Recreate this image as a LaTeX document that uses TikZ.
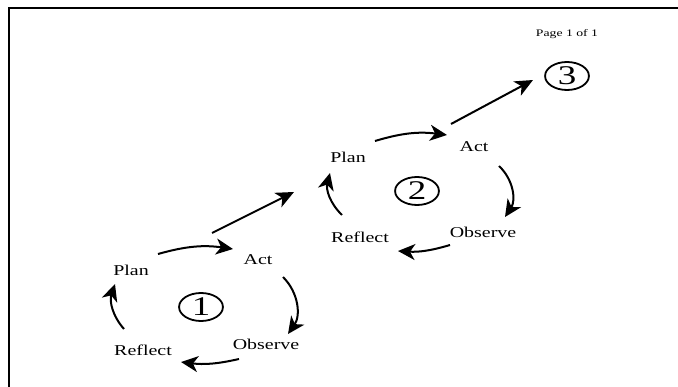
\documentclass[tikz,border=0pt]{standalone}
\usepackage{fontspec}
\setmainfont{Liberation Serif}
\usetikzlibrary{arrows.meta,shapes.geometric}

\begin{document}
\begin{tikzpicture}[x=1pt, y=-1pt,
  lbl/.style={font=\fontsize{15}{17}\selectfont, xscale=1.33, transform shape, inner sep=1pt},
  num/.style={ellipse, draw, line width=1.8pt, minimum width=32pt, minimum height=28pt, inner sep=0pt, font=\fontsize{27}{27}\selectfont, xscale=1.37, transform shape},
  cyc/.style={-{Stealth[length=17pt, width=16pt, inset=5pt]}, line width=2pt},
  adv/.style={-{Stealth[length=18pt, width=16pt, inset=5pt]}, line width=2pt}]
  \useasboundingbox (0,0) rectangle (678,387);
  \draw[line width=2pt] (9,387) -- (9,8) -- (678,8);

  \node[font=\fontsize{10}{11}\selectfont, xscale=1.37, transform shape] (page) at (567,34) {Page 1 of 1};

  % first cycle
  \node[lbl] (plan1) at (131,270) {Plan};
  \node[lbl] (act1) at (258,260) {Act};
  \node[lbl] (obs1) at (266,344) {Observe};
  \node[lbl] (ref1) at (143,350) {Reflect};
  \node[num] (num1) at (201,307) {1};

  \draw[cyc] ([shift={(27,-16)}]plan1.center) to[bend left=12] ([shift={(-25,-11)}]act1.center);
  \draw[cyc] ([shift={(25,17)}]act1.center) to[bend left=40] ([shift={(22,-10)}]obs1.center);
  \draw[cyc] ([shift={(-27,15)}]obs1.center) to[bend left=10] ([shift={(38,12)}]ref1.center);
  \draw[cyc] ([shift={(-19,-21)}]ref1.center) to[bend left=30] ([shift={(-16,14)}]plan1.center);

  % second cycle
  \node[lbl] (plan2) at (348,157) {Plan};
  \node[lbl] (act2) at (474,147) {Act};
  \node[lbl] (obs2) at (483,232) {Observe};
  \node[lbl] (ref2) at (360,237) {Reflect};
  \node[num] (num2) at (417,191) {2};

  \draw[cyc] ([shift={(27,-16)}]plan2.center) to[bend left=12] ([shift={(-27,-12)}]act2.center);
  \draw[cyc] ([shift={(25,19)}]act2.center) to[bend left=40] ([shift={(22,-15)}]obs2.center);
  \draw[cyc] ([shift={(-33,13)}]obs2.center) to[bend left=10] ([shift={(38,14)}]ref2.center);
  \draw[cyc] ([shift={(-18,-22)}]ref2.center) to[bend left=30] ([shift={(-18,16)}]plan2.center);

  % next step
  \node[num] (num3) at (567,76) {3};

  \draw[adv] ([shift={(-46,-27)}]act1.center) -- ([shift={(-54,35)}]plan2.center);
  \draw[adv] ([shift={(-23,-23)}]act2.center) -- ([shift={(-34,4)}]num3.center);
\end{tikzpicture}
\end{document}
